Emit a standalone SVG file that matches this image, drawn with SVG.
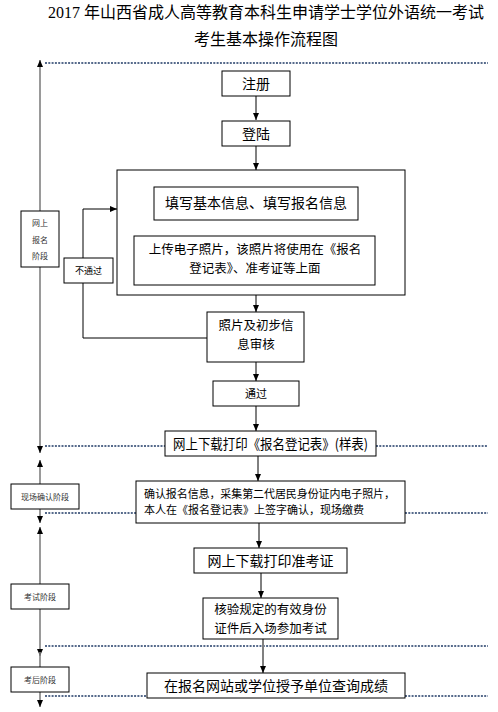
<svg xmlns="http://www.w3.org/2000/svg" width="498" height="712" viewBox="0 0 498 712">
<style>
text{font-family:"Noto Sans CJK SC","Liberation Sans",sans-serif;fill:#000;}
.box{fill:#fff;stroke:#000;stroke-width:1;}
.t14{font-size:14px;text-anchor:middle;}
.t13{font-size:12.5px;text-anchor:middle;}
.t11{font-size:11px;}
.t8{font-size:8px;text-anchor:middle;fill:#333;}
.ln{stroke:#000;stroke-width:1;fill:none;}
.gl{stroke:#808080;stroke-width:2;fill:none;}
.vl{stroke:#808080;stroke-width:1.6;fill:none;}
.dot{stroke:#1f3a66;stroke-width:1.3;stroke-dasharray:2 1.3;fill:none;}
</style>
<defs>
<marker id="ah" viewBox="0 0 7 6" refX="7" refY="3" markerWidth="7" markerHeight="6" markerUnits="userSpaceOnUse" orient="auto-start-reverse">
<path d="M0,0 L7,3 L0,6 Z" fill="#000"/>
</marker>
</defs>

<g id="title">
<text x="266" y="18" style="font-size:16px;text-anchor:middle;"><tspan style="font-family:'Liberation Serif',serif">2017 </tspan>年山西省成人高等教育本科生申请学士学位外语统一考试</text>
<text x="266" y="45" style="font-size:16px;text-anchor:middle;">考生基本操作流程图</text>
</g>

<g id="phase-lines">
<line class="dot" x1="45" y1="63" x2="488" y2="63"/>
<line class="dot" x1="45" y1="446" x2="165" y2="446"/>
<line class="dot" x1="376" y1="446" x2="488" y2="446"/>
<line class="dot" x1="45" y1="513" x2="136" y2="513"/>
<line class="dot" x1="405" y1="513" x2="488" y2="513"/>
<line class="dot" x1="45" y1="646" x2="488" y2="646"/>
<line class="dot" x1="45" y1="696" x2="147" y2="696"/>
<line class="dot" x1="405" y1="696" x2="488" y2="696"/>
</g>

<g id="connectors">
<line class="vl" x1="40" y1="60" x2="40" y2="453" marker-start="url(#ah)" marker-end="url(#ah)"/>
<line class="vl" x1="40" y1="460" x2="40" y2="523" marker-start="url(#ah)" marker-end="url(#ah)"/>
<line class="vl" x1="40" y1="527" x2="40" y2="656" marker-start="url(#ah)" marker-end="url(#ah)"/>
<line class="vl" x1="40" y1="652" x2="40" y2="707" marker-end="url(#ah)"/>

<line class="ln" x1="256" y1="96" x2="256" y2="120" marker-end="url(#ah)"/>
<line class="gl" x1="256" y1="146" x2="256" y2="170" marker-end="url(#ah)"/>
<line class="ln" x1="256" y1="295" x2="256" y2="312" marker-end="url(#ah)"/>
<line class="ln" x1="256" y1="362" x2="256" y2="381" marker-end="url(#ah)"/>
<line class="gl" x1="256" y1="406" x2="256" y2="431" marker-end="url(#ah)"/>
<line class="ln" x1="258" y1="456" x2="258" y2="481" marker-end="url(#ah)"/>
<line class="ln" x1="259" y1="523" x2="259" y2="548" marker-end="url(#ah)"/>
<line class="ln" x1="261" y1="573" x2="261" y2="598" marker-end="url(#ah)"/>
<line class="gl" x1="263" y1="639" x2="263" y2="673" marker-end="url(#ah)"/>

<polyline class="ln" points="207,338 83,338 83,283"/>
<polyline class="ln" points="83,258 83,209 117,209" marker-end="url(#ah)"/>
</g>

<g id="stage-online">
<rect class="box" x="21" y="211" width="38" height="56"/>
<text class="t8" x="40" y="226">网上</text>
<text class="t8" x="40" y="243">报名</text>
<text class="t8" x="40" y="259">阶段</text>
</g>
<g id="stage-confirm">
<rect class="box" x="11" y="484" width="68" height="25"/>
<text class="t8" x="45" y="499.5">现场确认阶段</text>
</g>
<g id="stage-exam">
<rect class="box" x="11" y="584" width="58" height="25"/>
<text class="t8" x="40" y="599.5">考试阶段</text>
</g>
<g id="stage-after">
<rect class="box" x="11" y="667" width="58" height="25"/>
<text class="t8" x="40" y="682.5">考后阶段</text>
</g>

<g id="register">
<rect class="box" x="222" y="71" width="68" height="25"/>
<text class="t14" x="256" y="88.5">注册</text>
</g>
<g id="login">
<rect class="box" x="222" y="121" width="68" height="25"/>
<text class="t14" x="256" y="138.5">登陆</text>
</g>
<g id="fill-group">
<rect class="box" x="117" y="170" width="288" height="125"/>
</g>
<g id="fill-info">
<rect class="box" x="154" y="187" width="204" height="33"/>
<text class="t14" x="256" y="208">填写基本信息、填写报名信息</text>
</g>
<g id="upload-photo">
<rect class="box" x="134" y="236" width="241" height="49"/>
<text class="t13" x="255" y="254">上传电子照片，该照片将使用在《报名</text>
<text class="t13" x="255" y="272.5">登记表》、准考证等上面</text>
</g>
<g id="review">
<rect class="box" x="207" y="312" width="97" height="50"/>
<text class="t13" x="256" y="330">照片及初步信</text>
<text class="t13" x="256" y="348.5">息审核</text>
</g>
<g id="fail">
<rect class="box" x="64" y="258" width="49" height="25"/>
<text x="88.5" y="274" style="font-size:9px;text-anchor:middle;">不通过</text>
</g>
<g id="pass">
<rect class="box" x="213" y="381" width="86" height="25"/>
<text x="256" y="398" style="font-size:11px;text-anchor:middle;">通过</text>
</g>
<g id="download-form">
<rect class="box" x="165" y="431" width="211" height="25"/>
<text x="173" y="448.5" style="font-size:14px;" textLength="195" lengthAdjust="spacingAndGlyphs">网上下载打印《报名登记表》(样表)</text>
</g>
<g id="confirm">
<rect class="box" x="136" y="481" width="269" height="42"/>
<text class="t11" x="144" y="498" textLength="251" lengthAdjust="spacing">确认报名信息，采集第二代居民身份证内电子照片，</text>
<text class="t11" x="144" y="514">本人在《报名登记表》上签字确认，现场缴费</text>
</g>
<g id="download-ticket">
<rect class="box" x="194" y="548" width="153" height="25"/>
<text class="t14" x="270.5" y="565.5">网上下载打印准考证</text>
</g>
<g id="verify">
<rect class="box" x="203" y="598" width="135" height="41"/>
<text class="t13" x="270.5" y="614">核验规定的有效身份</text>
<text class="t13" x="270.5" y="632.5">证件后入场参加考试</text>
</g>
<g id="query">
<rect class="box" x="147" y="673" width="258" height="25"/>
<text class="t14" x="276" y="690.5">在报名网站或学位授予单位查询成绩</text>
</g>
</svg>
